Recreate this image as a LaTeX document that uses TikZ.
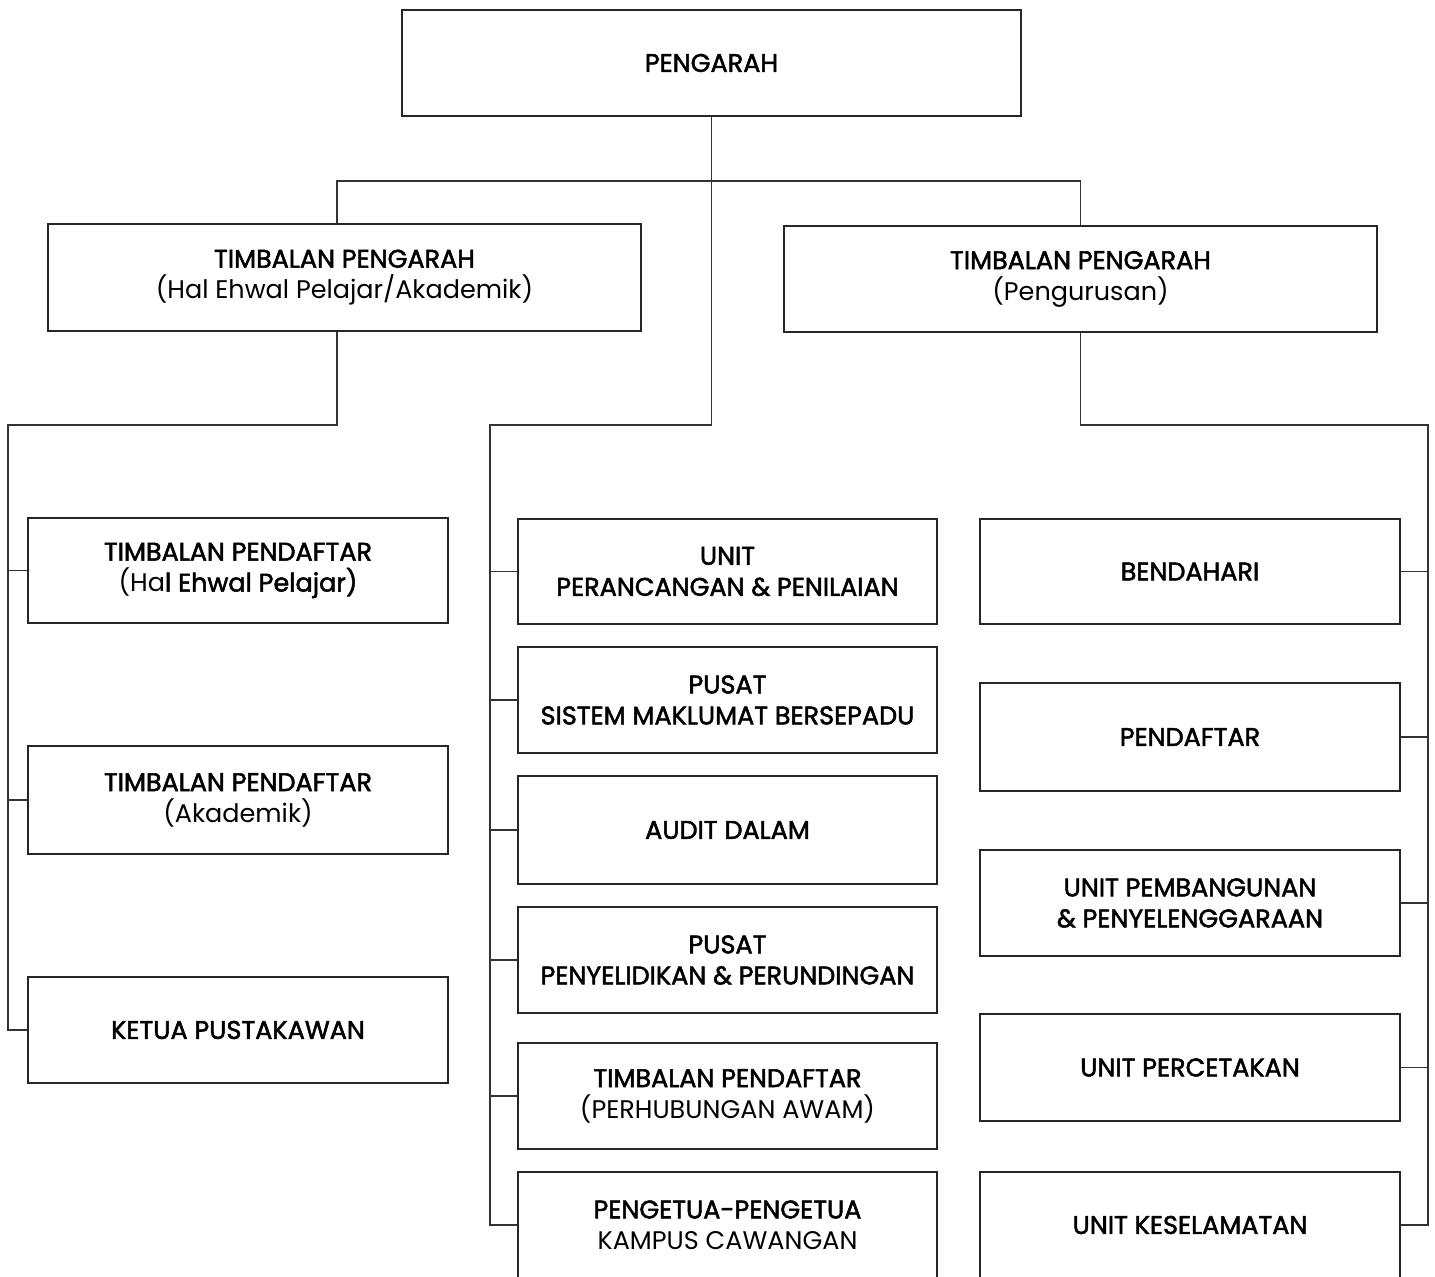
\documentclass[tikz,border=0pt]{standalone}
\usepackage{fontspec}
\setmainfont{Poppins}
\newfontfamily\hd[FakeBold=2]{Poppins}
\usetikzlibrary{positioning}
\begin{document}
\begin{tikzpicture}[x=1pt,y=-1pt,
  box/.style={draw=black!85,line width=1.2pt,rectangle,inner sep=0pt,align=center,
    font=\fontsize{25.5}{31}\selectfont},
  link/.style={draw=black!80,line width=1.2pt}]
\useasboundingbox[fill=white] (0,0) rectangle (1435,1277);
% top
\node[box,minimum width=619,minimum height=106] (pg) at (711.5,63) {\hd PENGARAH};
\node[box,minimum width=593,minimum height=107] (tpa) at (344.5,277.5) {{\hd TIMBALAN PENGARAH}\\(Hal Ehwal Pelajar/Akademik)};
\node[box,minimum width=593,minimum height=106] (tpp) at (1080.5,279) {{\hd TIMBALAN PENGARAH}\\(Pengurusan)};
% left column
\node[box,minimum width=420,minimum height=105] (l1) at (238,570.5) {{\hd TIMBALAN PENDAFTAR}\\(Ha{\hd l Ehwal Pelajar)}};
\node[box,minimum width=420,minimum height=108] (l2) at (238,800) {{\hd TIMBALAN PENDAFTAR}\\(Akademik)};
\node[box,minimum width=420,minimum height=106] (l3) at (238,1030) {\hd KETUA PUSTAKAWAN};
% middle column
\node[box,minimum width=419,minimum height=105] (m1) at (727.5,571.5) {\hd UNIT\\\hd PERANCANGAN \& PENILAIAN};
\node[box,minimum width=419,minimum height=106] (m2) at (727.5,700) {\hd PUSAT\\\hd SISTEM MAKLUMAT BERSEPADU};
\node[box,minimum width=419,minimum height=108] (m3) at (727.5,830) {\hd AUDIT DALAM};
\node[box,minimum width=419,minimum height=106] (m4) at (727.5,960) {\hd PUSAT\\\hd PENYELIDIKAN \& PERUNDINGAN};
\node[box,minimum width=419,minimum height=106] (m5) at (727.5,1096) {{\hd TIMBALAN PENDAFTAR}\\(PERHUBUNGAN AWAM)};
\node[box,minimum width=419,minimum height=106] (m6) at (727.5,1225) {{\hd PENGETUA-PENGETUA}\\KAMPUS CAWANGAN};
% right column
\node[box,minimum width=420,minimum height=105] (r1) at (1190,571.5) {\hd BENDAHARI};
\node[box,minimum width=420,minimum height=108] (r2) at (1190,737) {\hd PENDAFTAR};
\node[box,minimum width=420,minimum height=106] (r3) at (1190,903) {\hd UNIT PEMBANGUNAN\\\hd \& PENYELENGGARAAN};
\node[box,minimum width=420,minimum height=107] (r4) at (1190,1067.5) {\hd UNIT PERCETAKAN};
\node[box,minimum width=420,minimum height=106] (r5) at (1190,1225) {\hd UNIT KESELAMATAN};
% junction coordinates
\coordinate (hub) at (712,181);
\coordinate (lft) at (8,425);
\coordinate (mid) at (490,425);
\coordinate (rgt) at (1428,425);
% connectors
\draw[link] ([xshift=-7.5pt]tpa.north) |- (hub) -| (tpp.north);
\draw[link] (pg.south) |- (mid) |- (m6.west);
\draw[link] ([xshift=-7.5pt]tpa.south) |- (lft) |- (l3.west);
\draw[link] (tpp.south) |- (rgt) |- (r5.east);
\foreach \n in {l1,l2} \draw[link] (lft |- \n.west) -- (\n.west);
\foreach \n in {m1,m2,m3,m4,m5} \draw[link] (mid |- \n.west) -- (\n.west);
\foreach \n in {r1,r2,r3,r4} \draw[link] (rgt |- \n.east) -- (\n.east);
\end{tikzpicture}
\end{document}
